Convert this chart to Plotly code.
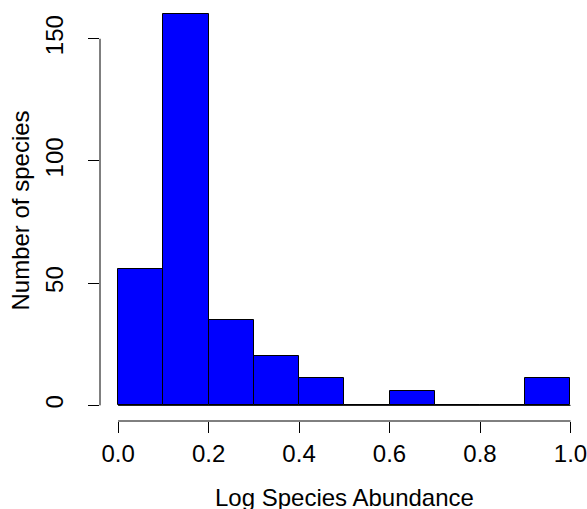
import plotly.graph_objects as go

# Data
bin_edges = [0.0, 0.1, 0.2, 0.3, 0.4, 0.5, 0.6, 0.7, 0.8, 0.9, 1.0]
counts = [56, 160, 35, 20, 11, 0, 6, 0, 0, 11]
x_ticks = [0.0, 0.2, 0.4, 0.6, 0.8, 1.0]
x_tick_labels = ["0.0", "0.2", "0.4", "0.6", "0.8", "1.0"]
y_ticks = [0, 50, 100, 150]
y_tick_labels = ["0", "50", "100", "150"]

centers = [(a + b) / 2 for a, b in zip(bin_edges[:-1], bin_edges[1:])]
widths = [b - a for a, b in zip(bin_edges[:-1], bin_edges[1:])]

FONT = "Liberation Sans, Arial, Helvetica, sans-serif"
FS = 24

fig = go.Figure()
# baseline (zero-height bins drawn as lines, as in R)
fig.add_trace(go.Scatter(x=[bin_edges[0], bin_edges[-1]], y=[0, 0], mode="lines",
                         line=dict(color="black", width=1), hoverinfo="skip", showlegend=False))
fig.add_trace(go.Bar(x=centers, y=counts, width=widths,
                     marker=dict(color="#0000FF", line=dict(color="black", width=1)),
                     showlegend=False))

W, H = 587, 509
ml, mr, mt, mb = 100, 0, 0, 88
pw = W - ml - mr
ph = H - mt - mb

fig.update_layout(
    width=W, height=H,
    margin=dict(l=ml, r=mr, t=mt, b=mb, pad=0, autoexpand=False),
    plot_bgcolor="white", paper_bgcolor="white",
    font=dict(family=FONT, size=FS, color="black"),
    bargap=0,
    xaxis=dict(range=[-0.04, 1.0365], tickvals=x_ticks, ticktext=x_tick_labels,
               ticks="outside", ticklen=11, tickwidth=1, tickcolor="black",
               showgrid=False, zeroline=False, showline=False, automargin=False,
               ticklabelstandoff=0, ticklabeloverflow="allow", tickfont=dict(size=FS)),
    yaxis=dict(range=[-6.4, 165.86], tickvals=y_ticks, ticktext=y_tick_labels,
               ticks="outside", ticklen=11, tickwidth=1, tickcolor="black",
               showgrid=False, zeroline=False, showline=False, tickangle=-90,
               automargin=False, ticklabelstandoff=15, ticklabeloverflow="allow",
               tickfont=dict(size=FS)),
    shapes=[
        dict(type="line", xref="x", yref="paper", x0=x_ticks[0], x1=x_ticks[-1], y0=0, y1=0,
             line=dict(color="black", width=1)),
        dict(type="line", xref="paper", yref="y", x0=0, x1=0, y0=y_ticks[0], y1=y_ticks[-1],
             line=dict(color="black", width=1)),
    ],
    annotations=[
        dict(text="Log Species Abundance", xref="x", x=(x_ticks[0] + x_ticks[-1]) / 2,
             yref="paper", y=-(497 - ph) / ph, xanchor="center", yanchor="middle",
             showarrow=False, font=dict(size=FS)),
        dict(text="Number of species", xref="paper", x=(20 - ml) / pw,
             yref="paper", y=0.5, xanchor="center", yanchor="middle", textangle=-90,
             showarrow=False, font=dict(size=FS)),
    ],
)

fig.write_html("out.html", config={"displayModeBar": False},
               post_script="document.body.style.margin='0px';document.body.style.overflow='hidden';")
